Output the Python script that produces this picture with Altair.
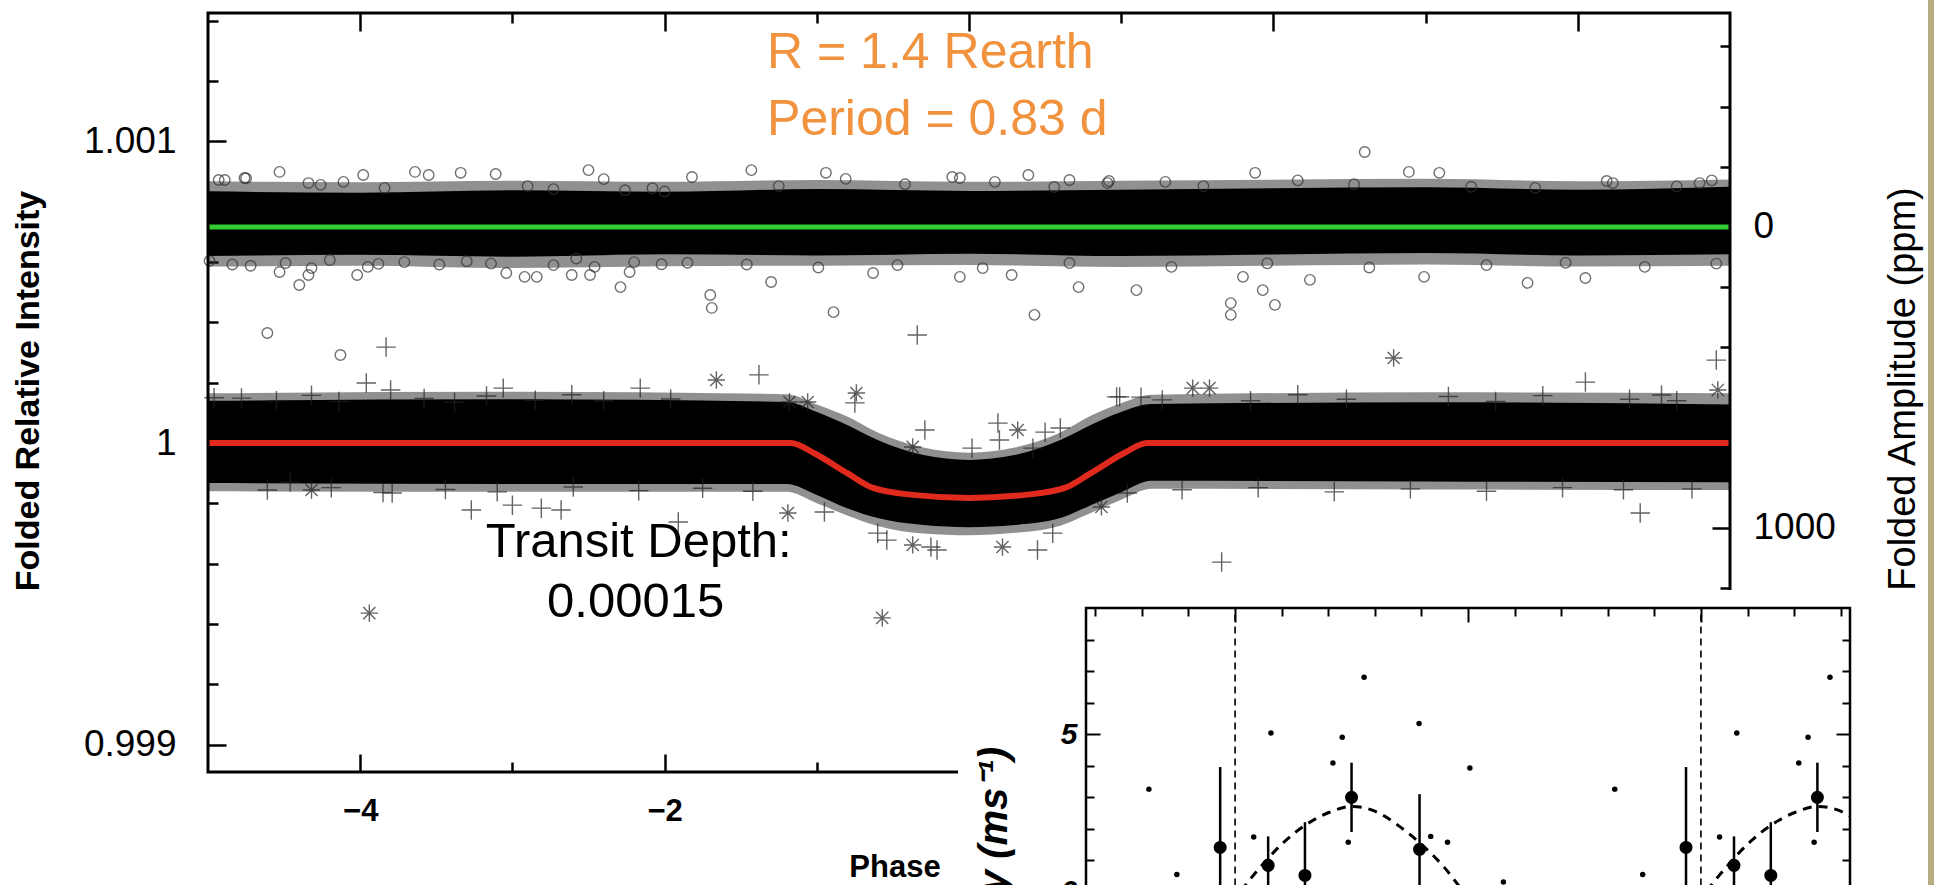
import altair as alt
import pandas as pd

FONT = "Liberation Sans"
W, H = 1522, 759

# ---------------- main panel: folded light curves ----------------
# dense band envelopes (relative intensity)
up_phase = [-5, -4, -3, -2, -1, 0, 1, 2, 3, 4, 5]
up_core_hi = [1.000835, 1.000830, 1.000838, 1.000833, 1.000842, 1.000836, 1.000840, 1.000845, 1.000848, 1.000840, 1.000850]
up_core_lo = [1.000620, 1.000624, 1.000618, 1.000626, 1.000622, 1.000628, 1.000620, 1.000625, 1.000630, 1.000622, 1.000626]
up_fringe_hi = [1.000868, 1.000865, 1.000870, 1.000866, 1.000872, 1.000866, 1.000870, 1.000873, 1.000876, 1.000868, 1.000874]
up_fringe_lo = [1.000585, 1.000588, 1.000580, 1.000586, 1.000588, 1.000590, 1.000584, 1.000588, 1.000592, 1.000585, 1.000588]

lo_phase = [-5, -3, -1.2, -1.0, -0.8, -0.6, -0.3, 0, 0.3, 0.6, 0.8, 1.0, 1.2, 3, 5]
lo_core_hi = [1.000140, 1.000145, 1.000136, 1.000103, 1.000060, 1.000010, 0.999960, 0.999944, 0.999960, 1.000010, 1.000060, 1.000103, 1.000129, 1.000135, 1.000128]
lo_core_lo = [0.999867, 0.999864, 0.999864, 0.999828, 0.999784, 0.999751, 0.999728, 0.999721, 0.999728, 0.999751, 0.999794, 0.999837, 0.999875, 0.999872, 0.999870]
lo_fringe_hi = [1.000165, 1.000170, 1.000162, 1.000128, 1.000088, 1.000035, 0.999985, 0.999968, 0.999985, 1.000035, 1.000090, 1.000132, 1.000160, 1.000168, 1.000165]
lo_fringe_lo = [0.999840, 0.999838, 0.999838, 0.999800, 0.999760, 0.999725, 0.999700, 0.999694, 0.999702, 0.999726, 0.999768, 0.999812, 0.999848, 0.999846, 0.999844]

# isolated / edge points of the circle (upper) series
circ_phase = [-4.53, -3.34, -3.11, -2.50, -3.64, -3.98, -1.82, -4.89, -4.76, -1.43, -0.11, 0.17,
              1.88, 2.60, 2.89, 3.09, 4.23, 4.80, 0.39, 0.66, 0.91, -0.94, 1.29,
              -4.53, -4.40, -4.34, -4.02, -3.95, -3.04, -2.92, -2.84, -2.61, -2.49, -2.46, -2.29,
              -2.23, -1.30, -1.70, -1.69, -0.89, -0.63, -0.06, 0.28, 0.43, 0.72, 1.10, 1.80,
              1.72, 1.72, 1.93, 2.01, 2.24, 2.99, 3.67, 4.05, -4.61, -4.13,
              -4.93, -4.75, -4.34, -4.26, -4.11, -3.84, -3.55, -2.90, -2.73, -2.40, -2.26, -2.08,
              -2.00, -1.25, -0.81, -0.42, -0.06, 0.56, 0.92, 1.54, 2.16, 2.53, 3.30, 3.72, 4.19,
              4.65, 4.88,
              -4.99, -4.84, -4.72, -4.49, -4.32, -4.20, -3.88, -3.71, -3.48, -3.30, -3.14, -2.73,
              -2.58, -2.20, -2.02, -1.85, -1.46, -0.99, -0.47, 0.09, 0.66, 1.33, 1.96, 2.63, 3.40,
              3.92, 4.44, 4.91]
circ_val = [1.000899, 1.000896, 1.000892, 1.000905, 1.000899, 1.000889, 1.000882, 1.000872, 1.000879,
            1.000905, 1.000882, 1.000866, 1.000896, 1.000965, 1.000899, 1.000896, 1.000862, 1.000862,
            1.000889, 1.000872, 1.000862, 1.000896, 1.000866,
            1.000567, 1.000524, 1.000557, 1.000557, 1.000584, 1.000564, 1.000551, 1.000551, 1.000557,
            1.000557, 1.000584, 1.000517, 1.000567, 1.000534, 1.000491, 1.000448, 1.000434, 1.000564,
            1.000551, 1.000557, 1.000425, 1.000517, 1.000507, 1.000551, 1.000464, 1.000425, 1.000507,
            1.000458, 1.000541, 1.000551, 1.000531, 1.000547, 1.000365, 1.000292,
            1.000872, 1.000878, 1.000862, 1.000856, 1.000866, 1.000846, 1.000889, 1.000852, 1.000842,
            1.000875, 1.000838, 1.000845, 1.000834, 1.000852, 1.000876, 1.000858, 1.000879, 1.000849,
            1.000869, 1.000852, 1.000871, 1.000858, 1.000850, 1.000846, 1.000869, 1.000851, 1.000871,
            1.000604, 1.000592, 1.000588, 1.000597, 1.000580, 1.000607, 1.000594, 1.000600, 1.000592,
            1.000603, 1.000595, 1.000590, 1.000612, 1.000600, 1.000593, 1.000598, 1.000592, 1.000582,
            1.000590, 1.000580, 1.000597, 1.000584, 1.000596, 1.000582, 1.000590, 1.000598, 1.000584,
            1.000595]

# isolated / edge points of the plus (lower) series
plus_phase = [-3.83, -3.96, -3.80, -3.06, -2.16, -4.78, -0.34, 4.91, -1.38, 0.97, 4.05, 4.55, 4.41,
              -0.75, -0.29, 0.19, 0.20, 0.50, 0.60, 0.42, 0.02, 0.99, 1.27, -0.95, -0.60, -0.54,
              -0.21, 0.45, 0.55, 1.04, -3.27, -3.00, -2.81, -2.68, -3.79, -4.46, -0.25, -1.91, 1.66,
              -4.96, -4.55, -4.32, -4.14, -3.58, -3.38, -3.17, -2.85, -2.61, -2.40, -1.96,
              1.13, 1.85, 2.16, 2.48, 3.15, 3.46, 3.77, 4.34, 4.65,
              -4.61, -4.19, -3.85, -3.44, -3.10, -2.60, -2.17, -1.75, -1.42,
              1.40, 1.90, 2.40, 2.90, 3.40, 3.90, 4.30, 4.75]
plus_val = [1.000318, 1.000199, 1.000176, 1.000182, 1.000182, 1.000149, 1.000358, 1.000275, 1.000226,
            1.000153, 1.000202, 1.000159, 0.999768, 1.000133, 1.000043, 1.000066, 1.000010, 1.000036,
            1.000050, 0.999983, 0.999983, 1.000153, 1.000143, 0.999771, 0.999701, 0.999678, 0.999645,
            0.999645, 0.999701, 0.999834, 0.999778, 0.999794, 0.999784, 0.999778, 0.999834, 0.999871,
            0.999655, 0.999738, 0.999605,
            1.000150, 1.000140, 1.000158, 1.000138, 1.000148, 1.000135, 1.000156, 1.000142, 1.000160,
            1.000140, 1.000146,
            1.000152, 1.000140, 1.000160, 1.000145, 1.000154, 1.000138, 1.000157, 1.000145, 1.000140,
            0.999844, 0.999852, 0.999836, 0.999846, 0.999838, 0.999854, 0.999842, 0.999850, 0.999840,
            0.999845, 0.999852, 0.999838, 0.999848, 0.999840, 0.999852, 0.999845, 0.999848]

star_phase = [-3.94, -0.57, 2.79, -1.66, -0.74, -1.18, -1.06, 0.32, -0.37, 1.47, 1.58, -1.19, -0.37,
              0.22, 0.87, -4.32, 4.92]
star_val = [0.999436, 0.999420, 1.000282, 1.000209, 1.000166, 1.000136, 1.000136, 1.000043, 0.999987,
            1.000182, 1.000182, 0.999768, 0.999662, 0.999655, 0.999788, 0.999844, 1.000176]

green_phase = [-5, 5]
green_val = [1.000716, 1.000716]

red_phase = [-5, -1.17, -1.02, -0.80, -0.63, -0.37, 0.0, 0.37, 0.63, 0.80, 1.02, 1.17, 5]
red_val = [1.0, 1.0, 0.999967, 0.999900, 0.999851, 0.999828, 0.999818, 0.999828, 0.999851, 0.999900,
           0.999967, 1.0, 1.0]

depth_text = ["Transit Depth:", "0.00015"]
depth_phase = [-2.17, -2.19]
depth_val = [0.999622, 0.999423]

planet_text = ["R = 1.4 Rearth", "Period = 0.83 d"]
planet_phase = [-1.327, -1.327]
planet_val = [1.001244, 1.001022]

# ---------------- inset: radial velocities ----------------
rv_phase = [0.04, 0.077, 0.21, 0.23, 0.243, 0.277, 0.395, 0.42, 0.456, 0.504, 0.576, 0.815, 0.875]
rv_val = [1.73, 5.03, 4.08, 4.9, 1.56, 6.8, 5.33, 1.75, 1.56, 3.92, 0.3, 3.25, 0.54]

bin_phase = [0.071, 0.15, 0.25, 0.396, 0.968]
bin_val = [0.83, 0.51, 2.99, 1.34, 1.4]
bin_err = [0.92, 1.69, 1.1, 1.75, 2.55]

fit_phase = [-0.1, -0.05, 0.0, 0.05, 0.1, 0.15, 0.2, 0.25, 0.3, 0.32, 0.35, 0.4, 0.45, 0.5, 0.55, 0.6]
fit_val = [-1.9, -1.1, -0.2, 0.7, 1.5, 2.1, 2.5, 2.7, 2.55, 2.4, 2.1, 1.5, 0.75, -0.2, -1.1, -1.9]

transit_phase = [0, 1]

# ---------------- scales ----------------
MX = alt.Scale(domain=[-5, 5], nice=False, zero=False)
MY = alt.Scale(domain=[0.998909, 1.001426], nice=False, zero=False)
PPM = alt.Scale(domain=[-711, 1811], reverse=True, nice=False, zero=False)
IX = alt.Scale(domain=[-0.32, 1.32], range=[878, 1642], nice=False, zero=False)
IY = alt.Scale(domain=[-4, 9], range=[1004.5, 595], nice=False, zero=False)


def mx(f="phase", axis=None):
    return alt.X(f"{f}:Q", scale=MX, axis=axis)


def my(f="val", axis=None):
    return alt.Y(f"{f}:Q", scale=MY, axis=axis)


def ix(f="phase", axis=None):
    return alt.X(f"{f}:Q", scale=IX, axis=axis)


def iy(f="val", axis=None):
    return alt.Y(f"{f}:Q", scale=IY, axis=axis)


def ax(**kw):
    base = dict(title=None, grid=False, domain=False, labelFont=FONT, labelColor="black",
                tickColor="black", tickWidth=2.5, labelFlush=False, labelOverlap=False)
    base.update(kw)
    return alt.Axis(**base)


def fold(df):
    parts = []
    for s in (-1, 0, 1):
        d = df.copy()
        d["phase"] = d["phase"] + s
        d["copy"] = str(s)
        parts.append(d)
    out = pd.concat(parts, ignore_index=True)
    return out[(out["phase"] >= -0.32 - 1e-9) & (out["phase"] <= 1.32 + 1e-9)]


up = pd.DataFrame({"phase": up_phase, "chi": up_core_hi, "clo": up_core_lo,
                   "fhi": up_fringe_hi, "flo": up_fringe_lo})
lo = pd.DataFrame({"phase": lo_phase, "chi": lo_core_hi, "clo": lo_core_lo,
                   "fhi": lo_fringe_hi, "flo": lo_fringe_lo})
circ = pd.DataFrame({"phase": circ_phase, "val": circ_val})
plus = pd.DataFrame({"phase": plus_phase, "val": plus_val})
star = pd.DataFrame({"phase": star_phase, "val": star_val})
green = pd.DataFrame({"phase": green_phase, "val": green_val})
red = pd.DataFrame({"phase": red_phase, "val": red_val})
depth = pd.DataFrame({"phase": depth_phase, "val": depth_val, "t": depth_text})
planet = pd.DataFrame({"phase": planet_phase, "val": planet_val, "t": planet_text})

rv = fold(pd.DataFrame({"phase": rv_phase, "val": rv_val}))
bins = pd.DataFrame({"phase": bin_phase, "val": bin_val, "err": bin_err})
bins["lo"] = bins["val"] - bins["err"]
bins["hi"] = bins["val"] + bins["err"]
bins = fold(bins)
fit = fold(pd.DataFrame({"phase": fit_phase, "val": fit_val}))
trans = pd.DataFrame({"phase": transit_phase, "lo": [-4, -4], "hi": [9, 9]})

layers = []


def band(df, hi, lo_, color, opacity):
    return alt.Chart(df).mark_area(color=color, opacity=opacity, interpolate="monotone").encode(
        x=mx(), y=my(hi), y2=alt.Y2(f"{lo_}:Q"))


layers += [band(up, "fhi", "flo", "#222222", 0.5), band(up, "chi", "clo", "black", 1.0)]
layers += [band(lo, "fhi", "flo", "#222222", 0.5), band(lo, "chi", "clo", "black", 1.0)]

layers.append(alt.Chart(circ).mark_point(shape="circle", filled=False, size=110, strokeWidth=1.4,
                                          color="#333333").encode(x=mx(), y=my()))
layers.append(alt.Chart(plus).mark_point(shape="M-1,0L1,0M0,-1L0,1", filled=False, size=380,
                                          strokeWidth=1.4, color="#222222").encode(x=mx(), y=my()))
layers.append(alt.Chart(star).mark_point(
    shape="M-1,0L1,0M0,-1L0,1M-0.7,-0.7L0.7,0.7M-0.7,0.7L0.7,-0.7", filled=False, size=300,
    strokeWidth=1.4, color="#222222").encode(x=mx(), y=my()))

layers.append(alt.Chart(green).mark_line(color="#33cc33", strokeWidth=5).encode(x=mx(), y=my()))
layers.append(alt.Chart(red).mark_line(color="#e02a1e", strokeWidth=6, interpolate="monotone").encode(
    x=mx(), y=my()))

# main frame
mframe = pd.DataFrame({"x1": [-5], "x2": [5], "y1": [0.998909], "y2": [1.001426]})
layers.append(alt.Chart(mframe).mark_rect(fillOpacity=0, stroke="black", strokeWidth=3).encode(
    x=mx("x1"), x2="x2:Q", y=my("y1"), y2="y2:Q"))

# annotations
layers.append(alt.Chart(depth).mark_text(font=FONT, fontSize=49, align="center", baseline="alphabetic",
                                          color="black").encode(x=mx(), y=my(), text="t:N"))
layers.append(alt.Chart(planet).mark_text(font=FONT, fontSize=50, align="left", baseline="alphabetic",
                                           color="#f0923e").encode(x=mx(), y=my(), text="t:N"))

# axis hosts for main panel (ticks point inward)
host = pd.DataFrame({"p": [0.0], "v": [1.0], "ppm": [0.0], "ip": [0.5], "iv": [5.0]})
maj_x = [-4, -2, 0, 2, 4]
min_x = [-3, -1, 1, 3]
maj_y = [0.999, 1.0, 1.001]
min_y = [0.9992, 0.9994, 0.9996, 0.9998, 1.0002, 1.0004, 1.0006, 1.0008, 1.0012, 1.0014]
maj_ppm = [0, 1000]
min_ppm = [-600, -400, -200, 200, 400, 600, 800, 1200, 1400, 1600, 1800]


def hostlayer(xe, ye):
    return alt.Chart(host).mark_point(opacity=0).encode(x=xe, y=ye)


layers.append(hostlayer(
    mx("p", ax(orient="bottom", values=maj_x, tickSize=0, tickOpacity=0, labelPadding=24,
               labelFontSize=31, labelFontWeight="bold")),
    my("v", ax(orient="left", values=maj_y, tickSize=0, tickOpacity=0, labelPadding=32,
               labelFontSize=37, format="~g"))))
layers.append(hostlayer(
    mx("p", ax(orient="top", offset=-H, values=maj_x, labels=False, tickSize=18)),
    my("v", ax(orient="right", offset=-W, values=maj_y, labels=False, tickSize=18))))
layers.append(hostlayer(
    mx("p", ax(orient="top", offset=-H, values=min_x, labels=False, tickSize=10)),
    my("v", ax(orient="right", offset=-W, values=min_y, labels=False, tickSize=10))))
layers.append(hostlayer(
    mx("p", ax(orient="bottom", offset=-H, values=maj_x, labels=False, tickSize=18)),
    alt.Y("ppm:Q", scale=PPM, axis=ax(orient="right", values=maj_ppm, tickSize=0, tickOpacity=0,
                                      labelPadding=23, labelFontSize=37, format="d"))))
layers.append(hostlayer(
    mx("p", ax(orient="bottom", offset=-H, values=min_x, labels=False, tickSize=10)),
    alt.Y("ppm:Q", scale=PPM, axis=ax(orient="left", offset=-W, values=maj_ppm, labels=False,
                                      tickSize=18))))
layers.append(hostlayer(
    mx("p"),
    alt.Y("ppm:Q", scale=PPM, axis=ax(orient="left", offset=-W, values=min_ppm, labels=False,
                                      tickSize=10))))

# axis titles of the main panel
def fixed_text(txt, x, y, **kw):
    return alt.Chart(pd.DataFrame({"t": [txt]})).mark_text(font=FONT, color="black", **kw).encode(
        text="t:N", x=alt.value(x), y=alt.value(y))


layers.append(fixed_text("Folded Relative Intensity", -179, 378, angle=270, fontSize=34,
                         fontWeight="bold", align="center", baseline="middle"))
layers.append(fixed_text("Folded Amplitude (ppm)", 1696, 376, angle=270, fontSize=38,
                         align="center", baseline="middle"))
layers.append(fixed_text("Phase", 687, 855, fontSize=31, fontWeight="bold", align="center",
                         baseline="middle"))

# ---------------- inset ----------------
layers.append(alt.Chart(pd.DataFrame({"a": [0]})).mark_rect(color="white").encode(
    x=alt.value(750), x2=alt.value(1672), y=alt.value(577), y2=alt.value(880)))
iframe = pd.DataFrame({"x1": [-0.32], "x2": [1.32], "y1": [-4], "y2": [9]})
layers.append(alt.Chart(iframe).mark_rect(fill="white", stroke="black", strokeWidth=2.5).encode(
    x=ix("x1"), x2="x2:Q", y=iy("y1"), y2="y2:Q"))
layers.append(alt.Chart(trans).mark_rule(color="black", strokeWidth=1.6, strokeDash=[7, 5]).encode(
    x=ix(), y=iy("lo"), y2="hi:Q"))
layers.append(alt.Chart(fit).mark_line(color="black", strokeWidth=3, strokeDash=[9, 7],
                                       interpolate="monotone").encode(
    x=ix(), y=iy(), detail="copy:N"))
layers.append(alt.Chart(rv).mark_circle(color="black", size=30, opacity=1).encode(x=ix(), y=iy()))
layers.append(alt.Chart(bins).mark_rule(color="black", strokeWidth=2.5).encode(
    x=ix(), y=iy("lo"), y2="hi:Q"))
layers.append(alt.Chart(bins).mark_circle(color="black", size=170, opacity=1).encode(x=ix(), y=iy()))

imaj_x = [0, 0.5, 1]
imin_x = [-0.3, -0.2, -0.1, 0.1, 0.2, 0.3, 0.4, 0.6, 0.7, 0.8, 0.9, 1.1, 1.2, 1.3]
imaj_y = [0, 5]
imin_y = [-3, -2, -1, 1, 2, 3, 4, 6, 7, 8]
layers.append(hostlayer(
    ix("ip", ax(orient="bottom", offset=-164, values=imin_x, labels=False, tickSize=8, tickWidth=2,
                zindex=1)),
    iy("iv", ax(orient="left", offset=-878, values=imaj_y, tickSize=0, tickOpacity=0, labelPadding=9,
                labelFontSize=30, labelFontWeight="bold", labelFontStyle="italic", format="d",
                zindex=1))))
layers.append(hostlayer(
    ix("ip", ax(orient="bottom", offset=-164, values=imaj_x, labels=False, tickSize=14, tickWidth=2,
                zindex=1)),
    iy("iv", ax(orient="right", offset=-644, values=imin_y, labels=False, tickSize=8, tickWidth=2,
                zindex=1))))
layers.append(hostlayer(
    ix("ip"),
    iy("iv", ax(orient="right", offset=-644, values=imaj_y, labels=False, tickSize=14, tickWidth=2,
                zindex=1))))
layers.append(hostlayer(
    ix("ip"),
    iy("iv", ax(orient="left", offset=-1642, values=imin_y, labels=False, tickSize=8, tickWidth=2,
                zindex=1))))
layers.append(hostlayer(
    ix("ip"),
    iy("iv", ax(orient="left", offset=-1642, values=imaj_y, labels=False, tickSize=14, tickWidth=2,
                zindex=1))))

layers.append(fixed_text("Radial Velocity (ms\u207b\u00b9)", 787, 734, angle=270, fontSize=40,
                         fontWeight="bold", fontStyle="italic", align="right", baseline="middle"))

# slide border on the right edge
layers.append(alt.Chart(pd.DataFrame({"a": [0]})).mark_rect(color="#b8ab82").encode(
    x=alt.value(1720), x2=alt.value(1726), y=alt.value(-13), y2=alt.value(872)))

chart = alt.layer(*layers).resolve_scale(x="independent", y="independent").properties(
    width=W, height=H,
    padding={"left": 208, "top": 13, "right": 204, "bottom": 113},
    autosize=alt.AutoSizeParams(type="none"),
).configure_view(strokeWidth=0)

chart.save("out.html", embed_options={"renderer": "svg", "actions": False})
